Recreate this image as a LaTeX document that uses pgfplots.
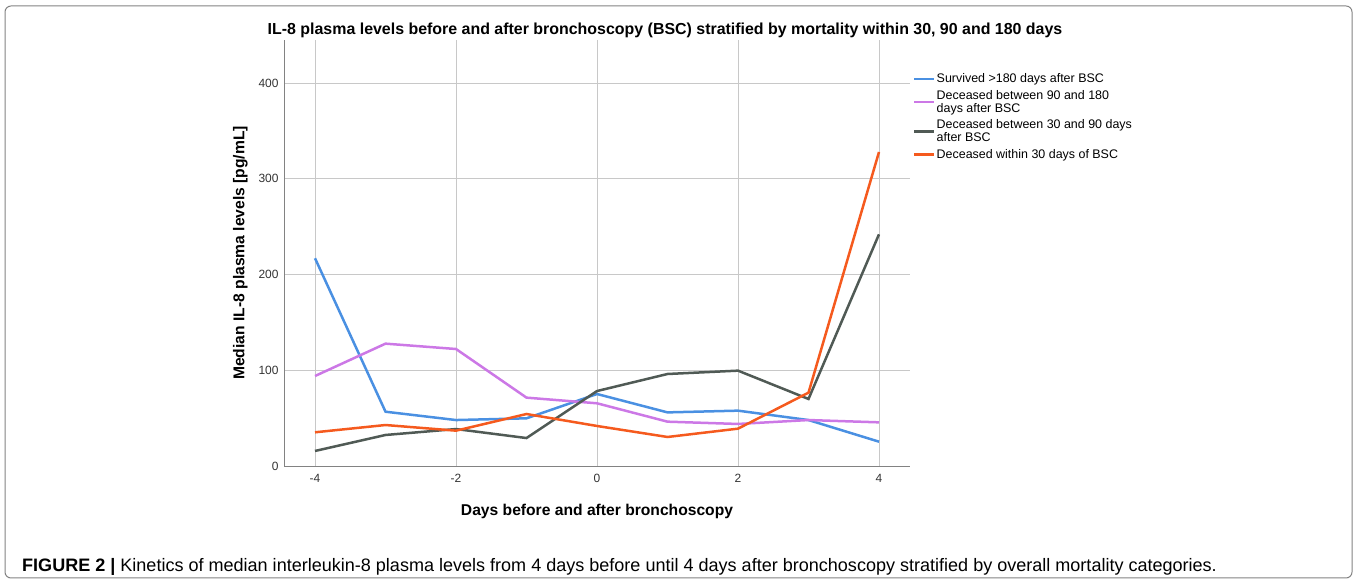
\documentclass[border=0pt]{standalone}
\usepackage{pgfplots}
\pgfplotsset{compat=1.18}
\usepackage{fontspec}
\setmainfont{Liberation Sans}
\definecolor{cblue}{RGB}{74,144,226}
\definecolor{cpurple}{RGB}{204,120,230}
\definecolor{cgrey}{RGB}{80,90,85}
\definecolor{corange}{RGB}{245,90,30}
\definecolor{gridc}{RGB}{200,200,200}
\definecolor{axc}{RGB}{130,130,130}
\begin{document}
\begin{tikzpicture}[x=1bp,y=1bp]
\useasboundingbox (0,0) rectangle (1358,583);
\draw[axc, line width=1bp, rounded corners=6bp] (5,5) rectangle (1352,577);
\begin{axis}[
  at={(284bp,117bp)}, anchor=south west,
  scale only axis, width=626bp, height=426bp,
  xmin=-4.44, xmax=4.44, ymin=0, ymax=445,
  xtick={-4,-2,0,2,4}, ytick={0,100,200,300,400},
  axis lines=left, axis line style={axc, line width=0.8bp, -},
  major tick length=0pt,
  grid=major, major grid style={gridc, line width=0.8bp},
  tick label style={font=\fontsize{12}{13}\selectfont, text=black!80},
  /pgf/number format/assume math mode=true,
  xticklabel style={yshift=-5bp},
  yticklabel style={xshift=-2bp},
  xlabel={\bfseries Days before and after bronchoscopy},
  ylabel={\bfseries Median IL-8 plasma levels [pg/mL]},
  label style={font=\fontsize{15.7}{17}\selectfont},
  xlabel style={yshift=-14bp},
  ylabel style={yshift=4bp},
  legend style={at={(1.0,0.928)}, anchor=north west, draw=none, fill=none,
    font=\fontsize{12.5}{13}\selectfont, row sep=4bp,
    nodes={align=left, inner sep=1bp}},
  legend cell align=left,
  legend image code/.code={\draw[#1, line width=2.5bp] (0bp,0bp) -- (20bp,0bp);},
  every axis plot/.append style={line width=2.5bp},
]
\addplot[cblue] coordinates {(-4,217) (-3,56.7) (-2,48) (-1,49.8) (0,75.2) (1,56) (2,57.8) (3,48) (4,25.4)};
\addlegendentry{Survived >180 days after BSC}
\addplot[cpurple] coordinates {(-4,94) (-3,127.8) (-2,122.2) (-1,71.4) (0,65.5) (1,46.3) (2,43.9) (3,48) (4,45.6)};
\addlegendentry{Deceased between 90 and 180\\days after BSC}
\addplot[cgrey] coordinates {(-4,15.7) (-3,32.4) (-2,38.6) (-1,29.2) (0,78.3) (1,96.1) (2,99.6) (3,70) (4,242)};
\addlegendentry{Deceased between 30 and 90 days\\after BSC}
\addplot[corange] coordinates {(-4,35.2) (-3,42.8) (-2,36.9) (-1,54.3) (0,41.8) (1,30.3) (2,39) (3,76.6) (4,328)};
\addlegendentry{Deceased within 30 days of BSC}
\end{axis}
\node[anchor=center, font=\fontsize{16}{18}\selectfont\bfseries] at (665,553) {IL-8 plasma levels before and after bronchoscopy (BSC) stratified by mortality within 30, 90 and 180 days};
\node[anchor=west, font=\fontsize{18.1}{20}\selectfont, inner sep=0] at (22,16) {\textbf{FIGURE 2 |} Kinetics of median interleukin-8 plasma levels from 4 days before until 4 days after bronchoscopy stratified by overall mortality categories.};
\end{tikzpicture}
\end{document}
